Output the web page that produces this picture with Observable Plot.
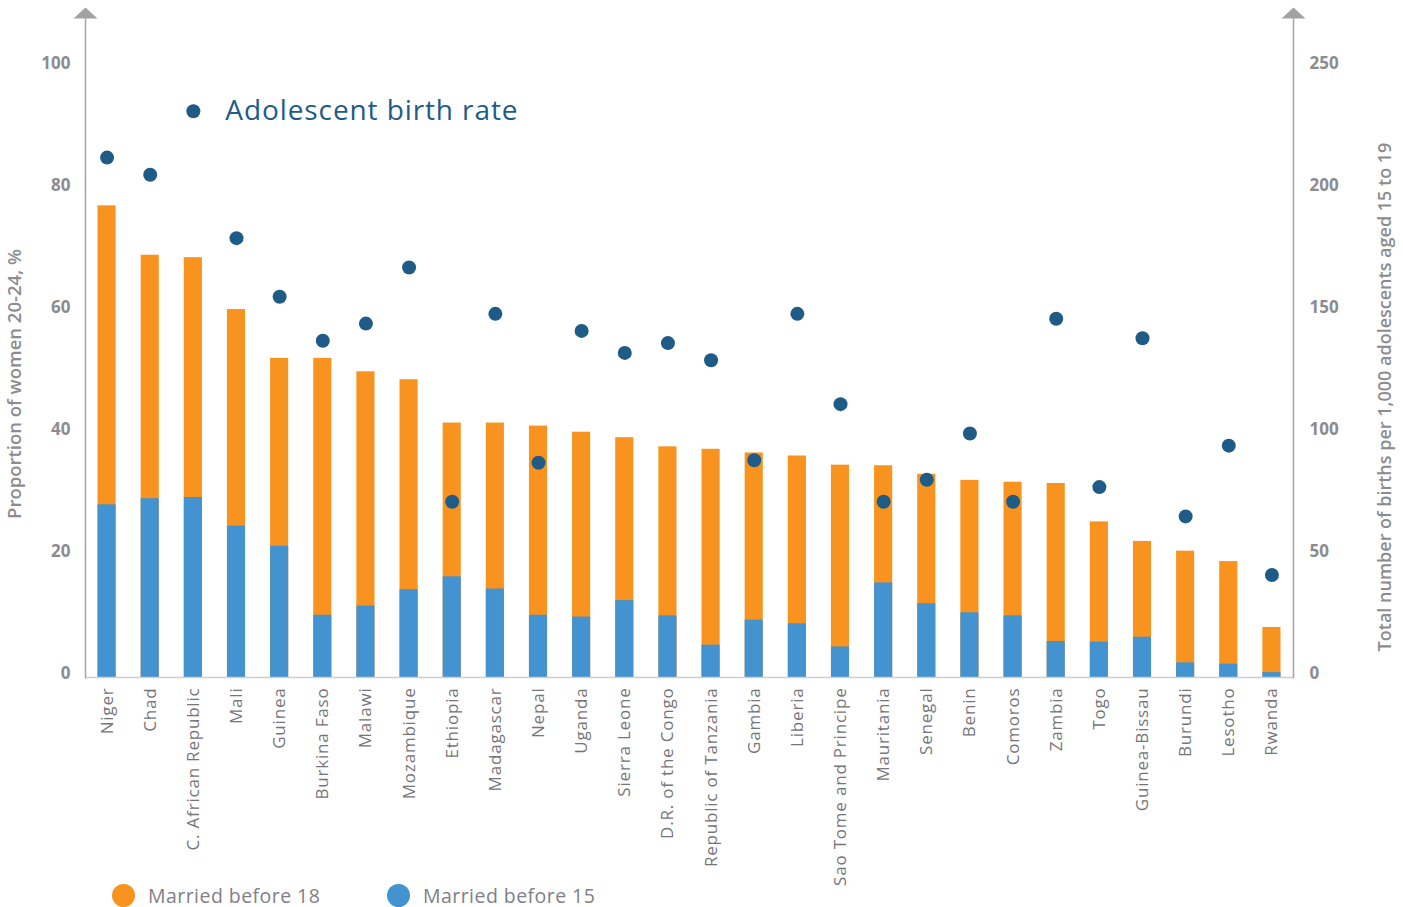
<!DOCTYPE html>
<html>
<head>
<meta charset="utf-8">
<script src="https://cdn.jsdelivr.net/npm/d3@7"></script>
<script src="https://cdn.jsdelivr.net/npm/@observablehq/plot@0.6"></script>
<style>
  html, body { margin: 0; padding: 0; background: #fff; }
  body { width: 1403px; height: 907px; position: relative; overflow: hidden; font-family: "Open Sans", Lato, sans-serif; }
  #chart { position: absolute; left: 0; top: 0; }
  .legend { position: absolute; top: 883px; left: 0; height: 24px; width: 700px; font-size: 19.5px; letter-spacing: 0.45px; color: #808086; }
  .item { position: absolute; top: 0; display: flex; align-items: center; height: 24px; }
  .sw { width: 23px; height: 23px; border-radius: 50%; margin-right: 13px; }
</style>
</head>
<body>
<div id="chart"></div>
<div class="legend">
  <div class="item" style="left:112px"><span class="sw" style="background:#f7931e"></span><span>Married before 18</span></div>
  <div class="item" style="left:387px"><span class="sw" style="background:#4293cf"></span><span>Married before 15</span></div>
</div>
<script>
const countries = ["Niger","Chad","C. African Republic","Mali","Guinea","Burkina Faso","Malawi","Mozambique","Ethiopia","Madagascar","Nepal","Uganda","Sierra Leone","D.R. of the Congo","Republic of Tanzania","Gambia","Liberia","Sao Tome and Principe","Mauritania","Senegal","Benin","Comoros","Zambia","Togo","Guinea-Bissau","Burundi","Lesotho","Rwanda"];
const marriedBefore18 = [77.3,69.2,68.8,60.3,52.3,52.3,50.1,48.8,41.7,41.7,41.2,40.2,39.3,37.8,37.4,36.8,36.3,34.8,34.7,33.3,32.3,32.0,31.8,25.5,22.3,20.7,19.0,8.2];
const marriedBefore15 = [28.3,29.3,29.5,24.8,21.5,10.2,11.7,14.4,16.5,14.5,10.2,9.9,12.6,10.1,5.3,9.4,8.8,5.0,15.5,12.1,10.6,10.1,5.9,5.8,6.6,2.4,2.2,0.8];
const adolescentBirthRate = [213,206,232,180,156,138,145,168,72,149,88,142,133,137,130,89,149,112,72,81,100,72,147,78,139,66,95,42];
const leftTicks = [0,20,40,60,80,100];
const rightFactor = 2.5; // right axis 0-250 maps onto left 0-100
const annotation = [{country: "C. African Republic", rate: 232, text: "Adolescent birth rate"}];

const data = countries.map((c, i) => ({country: c, b18: marriedBefore18[i], b15: marriedBefore15[i], abr: adolescentBirthRate[i]}));

const arrowUp = {
  draw(ctx) { ctx.moveTo(0, -11); ctx.lineTo(12, 0); ctx.lineTo(-12, 0); ctx.closePath(); }
};

const axisGray = "#a3a3a6";
const tickGray = "#8c8c90";
const font = "'Open Sans', Lato, sans-serif";

const chart = Plot.plot({
  width: 1403,
  height: 894,
  marginLeft: 85,
  marginRight: 110,
  marginTop: 18,
  marginBottom: 217,
  style: {fontFamily: font, background: "transparent"},
  x: {domain: countries, paddingInner: 0.58, paddingOuter: 0.29, round: false, label: null},
  y: {domain: [0, 108], label: null},
  marks: [
    Plot.barY(data, {x: "country", y: "b18", fill: "#f7931e"}),
    Plot.barY(data, {x: "country", y: "b15", fill: "#4293cf"}),
    Plot.ruleY([0], {stroke: "#cfcfd2", strokeWidth: 1.5}),
    Plot.frame({anchor: "left", stroke: axisGray, strokeWidth: 1.5}),
    Plot.frame({anchor: "right", stroke: axisGray, strokeWidth: 1.5}),
    Plot.dot([0], {frameAnchor: "top-left", symbol: arrowUp, fill: axisGray, r: 6}),
    Plot.dot([0], {frameAnchor: "top-right", symbol: arrowUp, fill: axisGray, r: 6}),
    Plot.dot(data, {x: "country", y: d => d.abr / rightFactor, r: 7, fill: "#1f5b87"}),
    Plot.text(annotation, {x: "country", y: d => d.rate / rightFactor, text: "text", dx: 32, textAnchor: "start", fontSize: 28, fill: "#1f5b87", fontWeight: 500, className: "anno"}),
    Plot.axisY({anchor: "left", ticks: leftTicks, tickSize: 0, tickPadding: 15, dy: -4, fontSize: 17, fontWeight: 700, color: tickGray,
      label: "Proportion of women 20-24, %", labelAnchor: "center", labelArrow: "none", labelOffset: 78}),
    Plot.axisY({anchor: "right", ticks: leftTicks, tickFormat: d => d * rightFactor, tickSize: 0, tickPadding: 16, dy: -4, fontSize: 17, fontWeight: 700, color: tickGray,
      label: "Total number of births per 1,000 adolescents aged 15 to 19", labelAnchor: "center", labelArrow: "none", labelOffset: 97}),
    Plot.axisX({tickRotate: -90, tickSize: 0, tickPadding: 10, fontSize: 17, color: "#75757a", label: null})
  ]
});
d3.select(chart).selectAll(".anno text").style("letter-spacing", "0.9px");
d3.select(chart).selectAll("[aria-label='x-axis tick label'] text").style("letter-spacing", "0.8px");
const labels = d3.select(chart).selectAll("[aria-label='y-axis label']");
labels.each(function(d, i) {
  const t = d3.select(this).select("text");
  const shift = i === 0 ? 36 : 49;
  t.style("font-size", i === 0 ? "18.5px" : "18px").style("font-weight", "600").attr("fill", tickGray);
  t.attr("transform", `translate(0,${shift}) ` + (t.attr("transform") || ""));
});
document.getElementById("chart").appendChild(chart);
</script>
</body>
</html>
